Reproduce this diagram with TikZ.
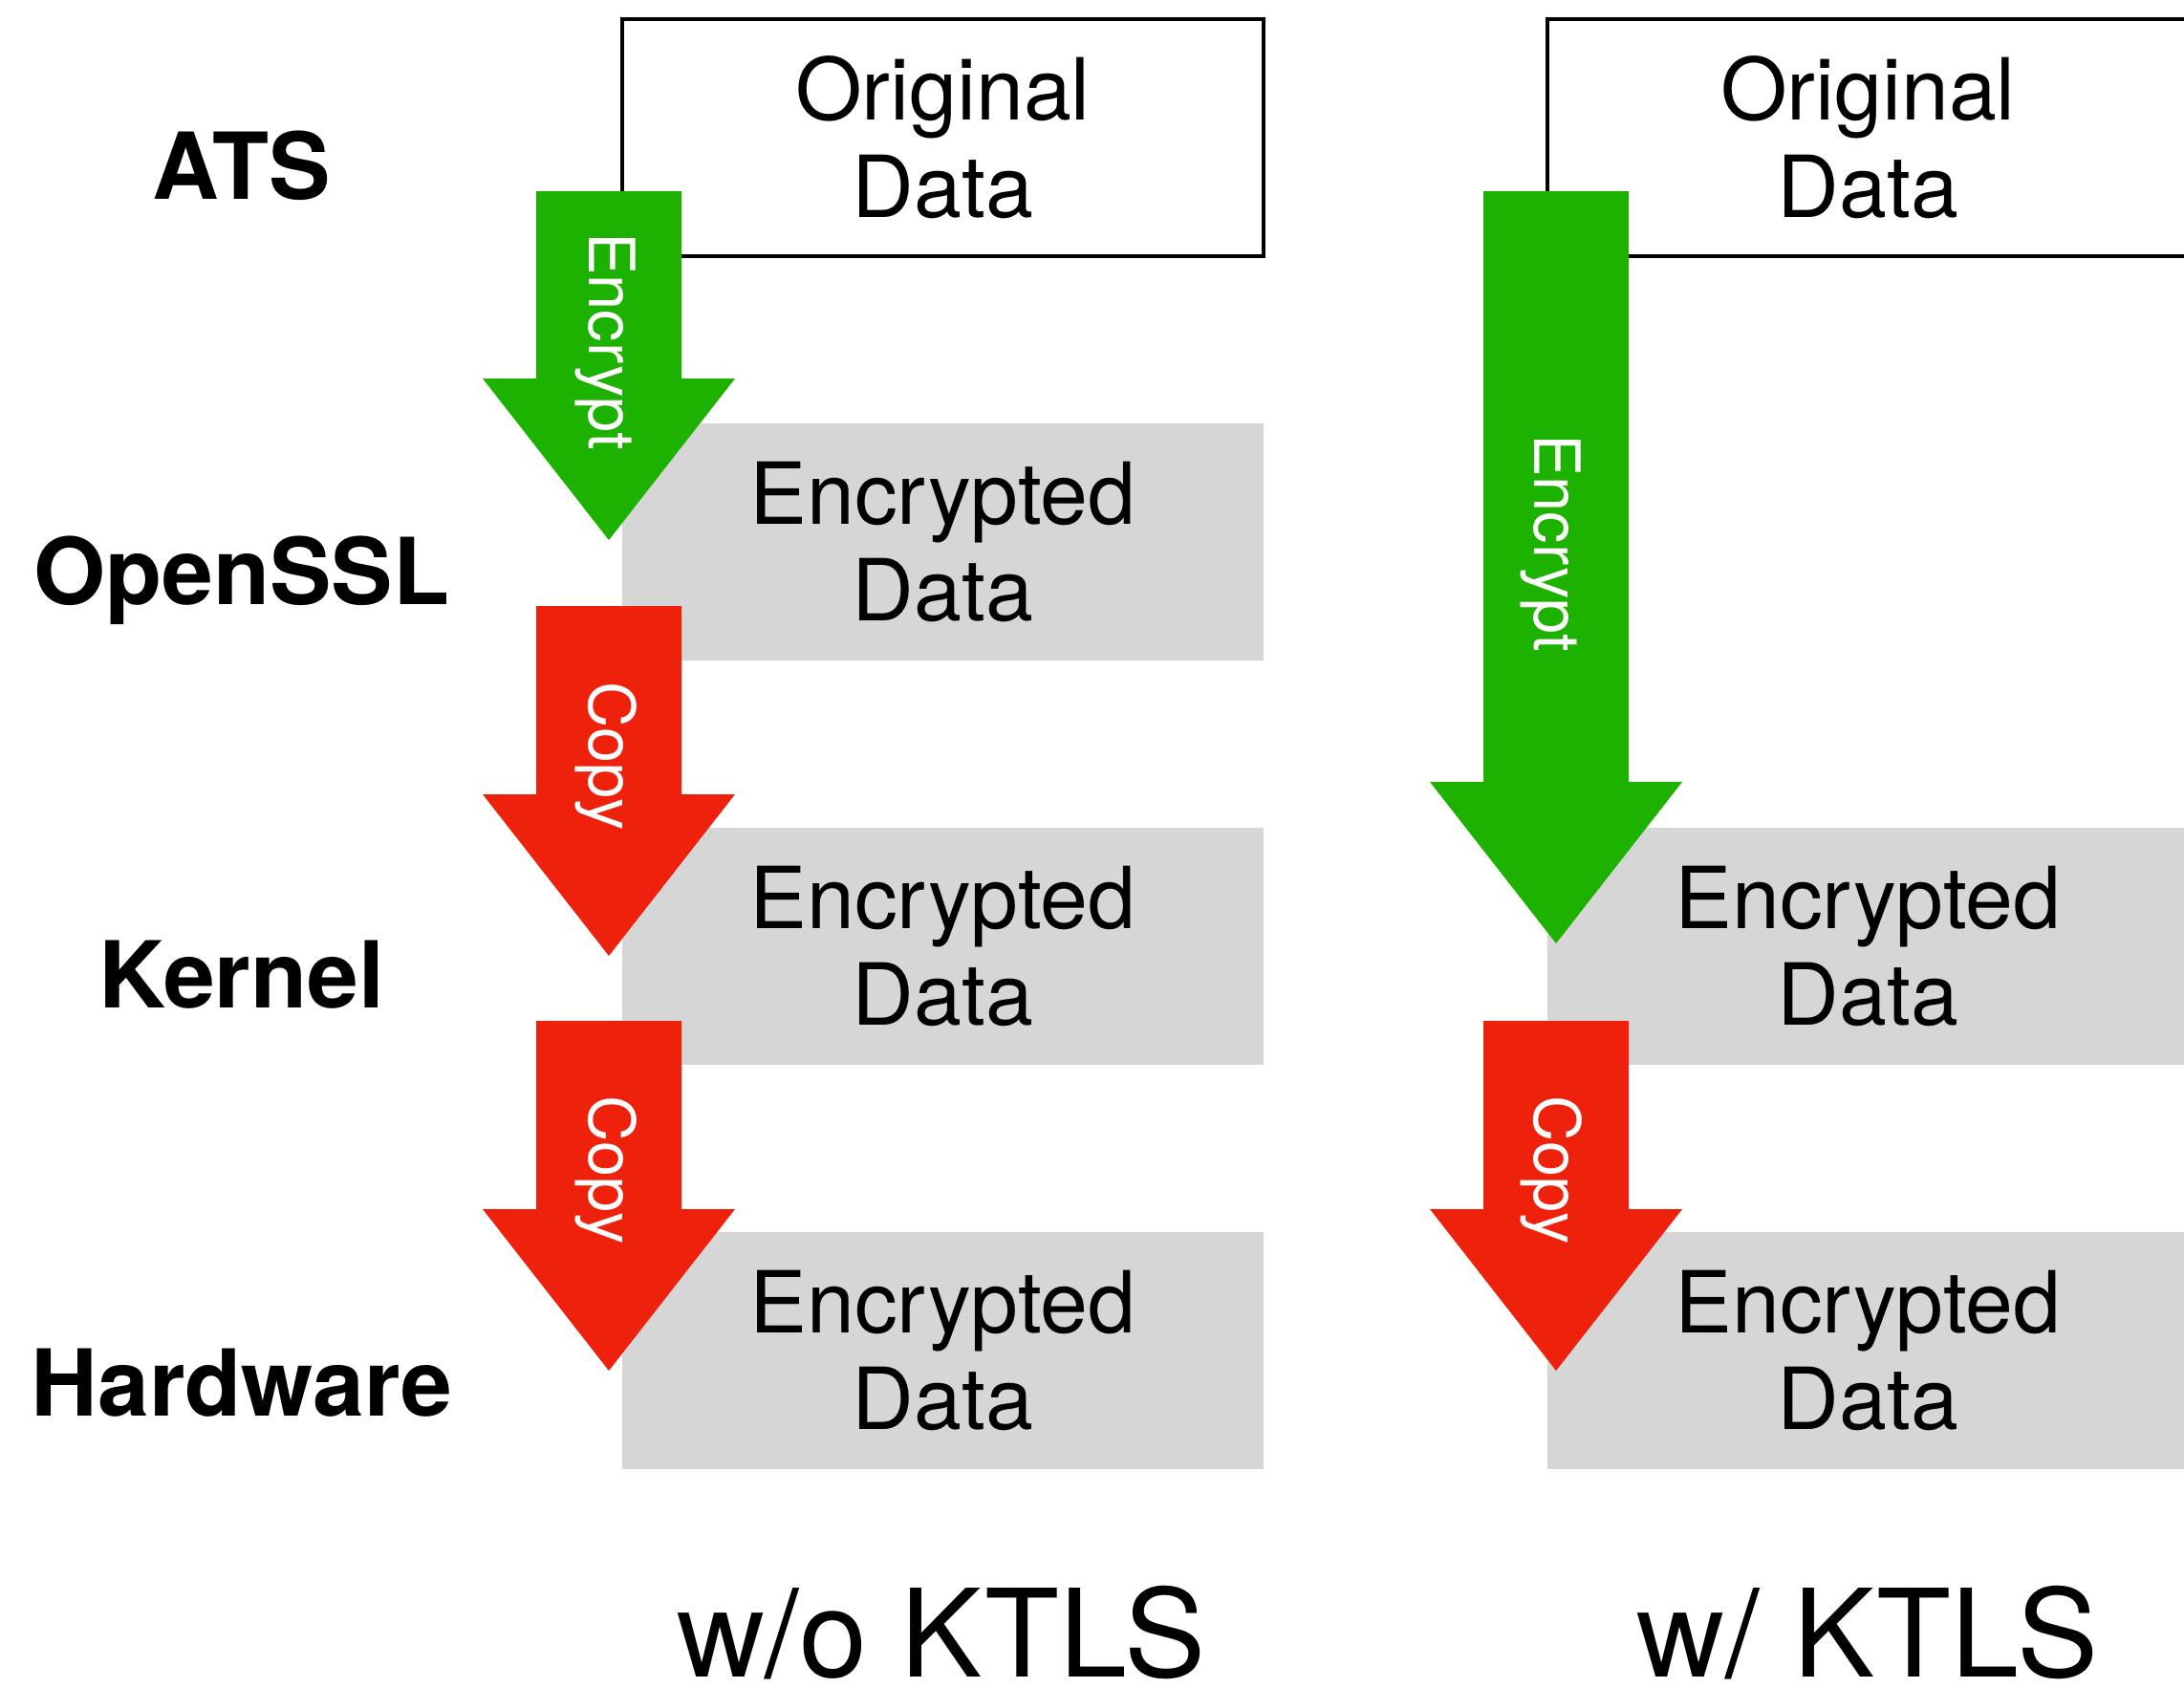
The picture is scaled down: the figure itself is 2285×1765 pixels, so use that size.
\documentclass[tikz,border=0pt]{standalone}
\usepackage{fontspec}
\setmainfont{TeX Gyre Heros}
\usepackage{xcolor}
\usetikzlibrary{positioning, calc}

\definecolor{encgreen}{HTML}{1DB100}
\definecolor{copyred}{HTML}{EE220C}
\definecolor{bufgray}{HTML}{D6D6D6}

% fat arrow from a top point down to a tip point
\newcommand{\blockarrow}[3]{%
  \fill[#3] ($(#1)+(-76,0)$) -- ($(#1)+(76,0)$) -- ($(#2)+(76,-169)$)
    -- ($(#2)+(132,-169)$) -- (#2) -- ($(#2)+(-132,-169)$)
    -- ($(#2)+(-76,-169)$) -- cycle;}

\begin{document}
\begin{tikzpicture}[x=0.1mm, y=-0.1mm, node distance=17.5mm and 29.7mm,
    orig/.style={draw, line width=0.4mm, outer sep=0pt, inner sep=0pt,
      minimum width=67.1mm, minimum height=24.8mm, align=center,
      font=\fontsize{25.5}{29}\selectfont},
    buf/.style={orig, draw=none, fill=bufgray},
    layer/.style={anchor=base, font=\bfseries\fontsize{27.5}{32}\selectfont},
    tag/.style={rotate=-90, text=white, inner sep=0pt,
      font=\fontsize{19}{22}\selectfont},
    caption/.style={anchor=base, font=\fontsize{36.3}{40}\selectfont}]
        \useasboundingbox (0,0) rectangle (2285,1765);

        % Layers
        \node[layer] (ats) at (253,208) {ATS};
        \node[layer] (openssl) at (253,632) {OpenSSL};
        \node[layer] (kernel) at (253,1054) {Kernel};
        \node[layer] (hardware) at (253,1481) {Hardware};

        % Buffers without KTLS
        \node[orig] (origA) at (986.5,144) {Original\\Data};
        \node[buf, below=of origA] (encA1) {Encrypted\\Data};
        \node[buf, below=of encA1] (encA2) {Encrypted\\Data};
        \node[buf, below=of encA2] (encA3) {Encrypted\\Data};

        % Buffers with KTLS
        \node[orig, right=of origA] (origB) {Original\\Data};
        \node[buf, right=of encA2] (encB2) {Encrypted\\Data};
        \node[buf, below=of encB2] (encB3) {Encrypted\\Data};

        % Arrow ends
        \coordinate (encTopA) at (637,200);
        \coordinate (encTipA) at (637,565);
        \coordinate (cpyTopA1) at (637,634);
        \coordinate (cpyTipA1) at (637,1000);
        \coordinate (cpyTopA2) at (637,1068);
        \coordinate (cpyTipA2) at (637,1434);
        \coordinate (encTopB) at (1628,200);
        \coordinate (encTipB) at (1628,987);
        \coordinate (cpyTopB) at (1628,1068);
        \coordinate (cpyTipB) at (1628,1434);

        % Encrypt / copy arrows
        \blockarrow{encTopA}{encTipA}{encgreen}
        \blockarrow{cpyTopA1}{cpyTipA1}{copyred}
        \blockarrow{cpyTopA2}{cpyTipA2}{copyred}
        \blockarrow{encTopB}{encTipB}{encgreen}
        \blockarrow{cpyTopB}{cpyTipB}{copyred}

        \node[tag] (encLblA) at (634,357) {Encrypt};
        \node[tag] (cpyLblA1) at (634,791) {Copy};
        \node[tag] (cpyLblA2) at (634,1224) {Copy};
        \node[tag] (encLblB) at (1623,568) {Encrypt};
        \node[tag] (cpyLblB) at (1623,1224) {Copy};

        % Captions
        \node[caption] (noktls) at (985,1754) {w/o KTLS};
        \node[caption] (ktls) at (1954,1754) {w/ KTLS};
    \end{tikzpicture}
\end{document}
